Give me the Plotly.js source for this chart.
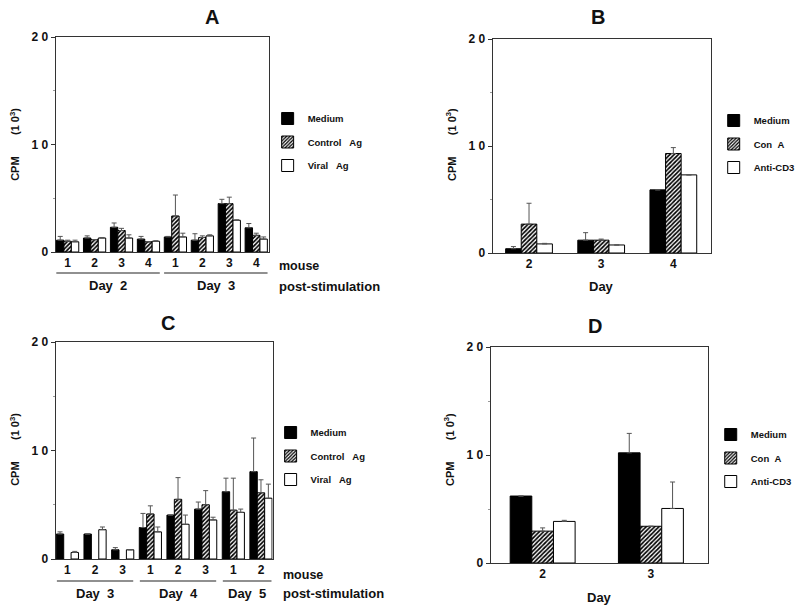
<!DOCTYPE html>
<html><head><meta charset="utf-8">
<script src="https://cdn.plot.ly/plotly-3.0.1.min.js"></script>
<style>html,body{margin:0;padding:0;background:#fff}#chart{width:800px;height:612px}</style>
</head><body><div id="chart"></div>
<script>
// ---------- Panel A ----------
const A_mouse = ['1','2','3','4','1','2','3','4'];
const A_days = ['Day  2','Day  3'];
const A_dayCounts = [4,4];
const A_medium = [1.1, 1.3, 2.3, 1.2, 1.4, 1.1, 4.5, 2.25];
const A_medium_err = [0.35, 0.2, 0.4, 0.25, 0.05, 0.6, 0.4, 0.4];
const A_control = [1.0, 1.15, 2.0, 0.95, 3.35, 1.35, 4.5, 1.55];
const A_control_err = [0.1, 0, 0.2, 0, 1.95, 0.15, 0.6, 0.2];
const A_viral = [0.95, 1.3, 1.3, 1.0, 1.4, 1.5, 2.95, 1.2];
const A_viral_err = [0.15, 0.05, 0.3, 0.05, 0.35, 0.1, 0.05, 0.2];
const A_names = ['Medium', 'Control\u00a0\u00a0\u00a0Ag', 'Viral\u00a0\u00a0\u00a0Ag'];

// ---------- Panel B ----------
const B_days = ['2','3','4'];
const B_medium = [0.4, 1.2, 5.9];
const B_medium_err = [0.2, 0.7, 0];
const B_cona = [2.7, 1.2, 9.3];
const B_cona_err = [1.95, 0.1, 0.55];
const B_anti = [0.85, 0.75, 7.3];
const B_anti_err = [0.05, 0, 0];
const B_names = ['Medium', 'Con\u00a0\u00a0A', 'Anti-CD3'];

// ---------- Panel C ----------
const C_mouse = ['1','2','3','1','2','3','1','2'];
const C_days = ['Day  3','Day  4','Day  5'];
const C_dayCounts = [3,3,2];
const C_medium = [2.3, 2.3, 0.85, 2.9, 4.05, 4.6, 6.2, 8.05];
const C_medium_err = [0.2, 0, 0.2, 1.3, 0, 0.65, 1.25, 3.1];
const C_control = [null, null, null, 4.15, 5.5, 5.0, 4.5, 6.1];
const C_control_err = [0, 0, 0, 0.75, 2.0, 1.3, 2.95, 1.2];
const C_viral = [0.6, 2.7, 0.85, 2.5, 3.2, 3.6, 4.3, 5.6];
const C_viral_err = [0.1, 0.25, 0, 0.45, 0.85, 0.25, 0.3, 1.3];
const C_names = ['Medium', 'Control\u00a0\u00a0\u00a0Ag', 'Viral\u00a0\u00a0\u00a0Ag'];

// ---------- Panel D ----------
const D_days = ['2','3'];
const D_medium = [6.2, 10.2];
const D_medium_err = [0, 1.8];
const D_cona = [2.95, 3.4];
const D_cona_err = [0.3, 0];
const D_anti = [3.85, 5.05];
const D_anti_err = [0.1, 2.45];
const D_names = ['Medium', 'Con\u00a0\u00a0A', 'Anti-CD3'];

// ---------- helpers ----------
const W = 800, H = 612;
const px = x => x / W;
const py = y => 1 - y / H;
const FONT = 'Liberation Sans, Arial, Helvetica, sans-serif';
const INK = '#333';

const styles = [
  {color: '#000', line: {color: '#000', width: 1}},
  {color: '#fff', pattern: {shape: '/', fgcolor: '#000', bgcolor: '#fff', size: 3, solidity: 0.55}, line: {color: '#000', width: 1}},
  {color: '#fff', line: {color: '#000', width: 1}}
];

function makeTraces(ax, series, errs, names, barW, legendId) {
  const xs = series[0].map((_, i) => i);
  return series.map((vals, k) => ({
    type: 'bar',
    x: xs,
    y: vals,
    name: names[k],
    legend: legendId,
    legendgroup: legendId + k,
    xaxis: 'x' + ax,
    yaxis: 'y' + ax,
    width: barW,
    offset: -1.5 * barW + k * barW,
    marker: styles[k],
    error_y: {type: 'data', symmetric: false, array: errs[k], arrayminus: errs[k].map(() => 0),
              color: '#555', thickness: 1, width: 2.5},
    hoverinfo: 'y'
  }));
}

const traces = [].concat(
  makeTraces('', [A_medium, A_control, A_viral], [A_medium_err, A_control_err, A_viral_err], A_names, 0.275, 'legend'),
  makeTraces('2', [B_medium, B_cona, B_anti], [B_medium_err, B_cona_err, B_anti_err], B_names, 0.216, 'legend2'),
  makeTraces('3', [C_medium, C_control, C_viral], [C_medium_err, C_control_err, C_viral_err], C_names, 0.267, 'legend3'),
  makeTraces('4', [D_medium, D_cona, D_anti], [D_medium_err, D_cona_err, D_anti_err], D_names, 0.2, 'legend4')
);

function yAxis(dom, anchor) {
  return {
    domain: dom, anchor: anchor, range: [0, 20],
    tickmode: 'array', tickvals: [0, 10, 20], ticktext: ['0', '1 0', '2 0'],
    ticks: 'outside', ticklen: 4, tickwidth: 1, tickcolor: INK,
    minor: {tickmode: 'array', tickvals: [5, 15], ticks: 'outside', ticklen: 2, tickcolor: '#999'},
    showline: true, linecolor: INK, linewidth: 1, mirror: true,
    showgrid: false, zeroline: false,
    tickfont: {family: FONT, size: 12, weight: 'bold', color: '#111'}
  };
}
function xAxis(dom, anchor, labels, range) {
  return {
    domain: dom, anchor: anchor, range: range,
    tickmode: 'array', tickvals: labels.map((_, i) => i), ticktext: labels,
    ticks: '', showline: true, linecolor: INK, linewidth: 1, mirror: true,
    showgrid: false, zeroline: false,
    tickfont: {family: FONT, size: 12, weight: 'bold', color: '#111'}
  };
}

function legendBox(x, y) {
  return {x: x, y: y, xanchor: 'left', yanchor: 'top', xref: 'paper', yref: 'paper',
          bgcolor: 'rgba(0,0,0,0)', borderwidth: 0, traceorder: 'grouped', tracegroupgap: 4.5,
          font: {family: FONT, size: 9.5, weight: 'bold', color: '#111'}};
}

const annotations = [];
const shapes = [];
function txt(x, y, text, size, opts) {
  annotations.push(Object.assign({x: px(x), y: py(y), xref: 'paper', yref: 'paper', text: text,
    showarrow: false, font: {family: FONT, size: size, weight: 'bold', color: '#111'},
    xanchor: 'center', yanchor: 'middle'}, opts || {}));
}

// panel titles
txt(214, 17, 'A', 20);
txt(603, 17, 'B', 20);
txt(169, 323, 'C', 20);
txt(600, 326, 'D', 20);

// y-axis titles
const cpm = 'CPM\u00a0\u00a0\u00a0\u00a0\u00a0\u00a0\u00a0(1\u00a00<sup>3</sup>)';
txt(15, 144, cpm, 11, {textangle: -90});
txt(455, 145, cpm, 11, {textangle: -90});
txt(15, 449, cpm, 11, {textangle: -90});
txt(453, 450, cpm, 11, {textangle: -90});

// x-axis titles for B and D
txt(607, 286, 'Day', 13);
txt(605, 597, 'Day', 13);

// mouse / post-stimulation
txt(279, 266, 'mouse', 12.5, {xanchor: 'left'});
txt(279, 286, 'post-stimulation', 13, {xanchor: 'left'});
txt(283, 575, 'mouse', 12.5, {xanchor: 'left'});
txt(283, 593, 'post-stimulation', 13, {xanchor: 'left'});

// day group lines + labels
function dayGroups(xref, days, counts, lineY, labelY, pad) {
  let start = 0;
  days.forEach((d, i) => {
    const end = start + counts[i] - 1;
    shapes.push({type: 'line', xref: xref, yref: 'paper', x0: start - pad, x1: end + pad,
                 y0: py(lineY), y1: py(lineY), line: {color: '#222', width: 1.2}});
    annotations.push({x: (start + end) / 2, y: py(labelY), xref: xref, yref: 'paper', text: d,
                      showarrow: false, font: {family: FONT, size: 13, weight: 'bold', color: '#111'},
                      xanchor: 'center', yanchor: 'middle'});
    start = end + 1;
  });
}
dayGroups('x', A_days, A_dayCounts, 273, 285, 0.42);
dayGroups('x3', C_days, C_dayCounts, 581, 593, 0.38);

const layout = {
  width: W, height: H,
  margin: {l: 0, r: 0, t: 0, b: 0},
  paper_bgcolor: '#fff', plot_bgcolor: '#fff',
  barmode: 'overlay',
  showlegend: true,
  xaxis: xAxis([px(56), px(271)], 'y', A_mouse, [-0.45, 7.46]),
  yaxis: yAxis([py(252), py(37)], 'x'),
  xaxis2: xAxis([px(497), px(717)], 'y2', B_days, [-0.504, 2.518]),
  yaxis2: yAxis([py(253), py(39)], 'x2'),
  xaxis3: xAxis([px(56), px(275)], 'y3', C_mouse, [-0.43, 7.42]),
  yaxis3: yAxis([py(559), py(342)], 'x3'),
  xaxis4: xAxis([px(495), px(714)], 'y4', D_days, [-0.48, 1.525]),
  yaxis4: yAxis([py(563), py(347)], 'x4'),
  legend: legendBox(px(270), py(104)),
  legend2: legendBox(px(720), py(106)),
  legend3: legendBox(px(273), py(418)),
  legend4: legendBox(px(717), py(420)),
  annotations: annotations,
  shapes: shapes
};

Plotly.newPlot('chart', traces, layout, {displayModeBar: false, staticPlot: true});
</script>
</body></html>
